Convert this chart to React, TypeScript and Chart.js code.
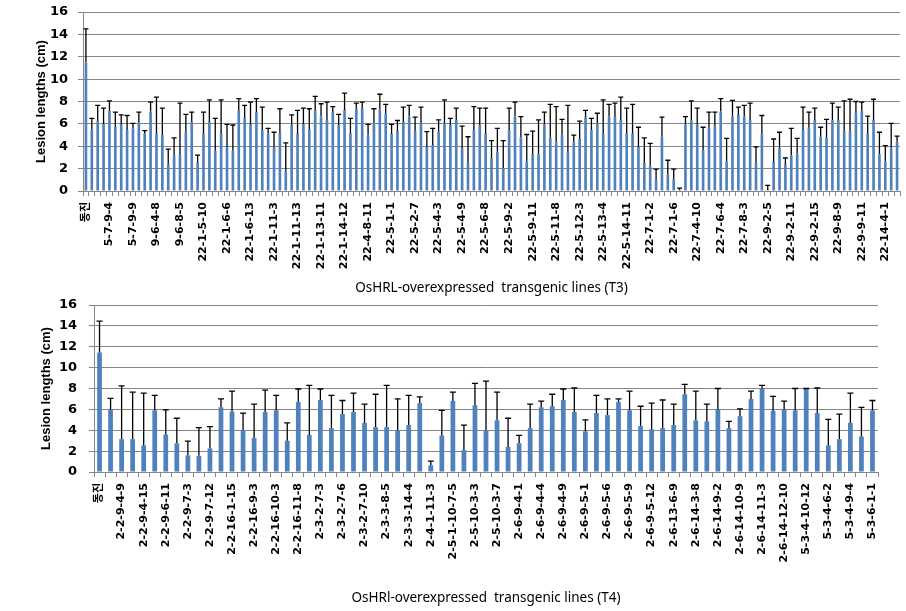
import React, { useEffect, useRef } from 'react';
import { Chart, registerables } from 'chart.js';
Chart.register(...registerables);

// ---------- T3 panel ----------
const t3TickLabels = [
  '동진', '5-7-9-4', '5-7-9-9', '9-6-4-8', '9-6-8-5', '22-1-5-10', '22-1-6-6', '22-1-6-13',
  '22-1-11-3', '22-1-11-13', '22-1-13-11', '22-1-14-12', '22-4-8-11', '22-5-1-1', '22-5-2-7',
  '22-5-4-3', '22-5-4-9', '22-5-6-8', '22-5-9-2', '22-5-9-11', '22-5-11-8', '22-5-12-3',
  '22-5-13-4', '22-5-14-11', '22-7-1-2', '22-7-1-6', '22-7-4-10', '22-7-6-4', '22-7-8-3',
  '22-9-2-5', '22-9-2-11', '22-9-2-15', '22-9-8-9', '22-9-9-11', '22-14-4-1',
];
const t3LabelStep = 4;
const t3Values = [
  11.5, 5.5, 6.25, 6.0, 7.15, 5.75, 6.0, 5.45, 5.6, 6.1,
  5.15, 7.1, 5.15, 5.0, 2.35, 3.2, 3.2, 5.3, 6.2, 2.5,
  5.15, 6.2, 3.6, 5.1, 3.95, 3.6, 7.15, 6.55, 6.0, 7.05,
  5.45, 5.15, 3.95, 5.15, 1.75, 5.9, 5.1, 6.0, 5.5, 7.25,
  6.65, 6.35, 7.05, 5.9, 7.25, 5.15, 7.35, 7.4, 4.95, 6.1,
  7.3, 6.95, 5.1, 5.35, 6.2, 6.65, 5.35, 6.05, 3.95, 4.1,
  5.3, 6.05, 5.9, 6.35, 3.85, 2.5, 5.45, 5.9, 5.15, 2.95,
  3.5, 2.05, 5.45, 6.65, 4.8, 2.65, 3.3, 3.3, 5.95, 4.8,
  4.35, 5.0, 3.45, 4.35, 4.65, 6.6, 5.45, 6.05, 5.15, 6.65,
  6.6, 6.35, 5.15, 5.15, 3.95, 2.5, 2.25, 1.0, 4.85, 1.45,
  1.05, 0.1, 5.95, 6.3, 5.95, 3.65, 5.65, 5.8, 7.1, 2.65,
  6.65, 6.8, 6.65, 6.35, 2.5, 5.05, 0.1, 2.6, 3.85, 2.35,
  3.2, 3.35, 5.45, 5.65, 6.35, 4.85, 4.75, 6.35, 6.35, 5.35,
  5.35, 6.95, 7.15, 5.15, 6.35, 3.3, 2.65, 3.8, 4.4,
];
const t3Errors = [
  3.0, 1.0, 1.4, 1.4, 0.9, 1.3, 0.8, 1.3, 0.45, 0.95,
  0.25, 0.85, 3.25, 2.4, 1.4, 1.55, 4.65, 1.55, 0.85, 0.7,
  1.9, 1.95, 2.9, 3.05, 2.0, 2.3, 1.1, 1.1, 1.95, 1.2,
  2.05, 0.45, 1.3, 2.2, 2.55, 0.9, 2.1, 1.4, 1.85, 1.2,
  1.15, 1.6, 0.5, 0.95, 1.5, 1.35, 0.5, 0.55, 1.0, 1.25,
  1.35, 0.8, 0.85, 0.95, 1.3, 1.0, 1.25, 1.45, 1.35, 1.5,
  1.05, 2.1, 0.6, 1.05, 1.95, 2.35, 2.1, 1.5, 2.25, 1.55,
  2.1, 2.45, 1.95, 1.3, 1.85, 2.4, 2.05, 3.05, 1.1, 2.95,
  3.2, 1.4, 4.2, 0.65, 1.6, 0.6, 1.05, 0.9, 3.0, 1.1,
  1.25, 2.05, 2.25, 2.6, 1.75, 2.25, 2.0, 0.95, 1.75, 1.3,
  0.9, 0.15, 0.7, 1.75, 1.45, 2.05, 1.4, 1.25, 1.15, 2.05,
  1.45, 0.7, 1.0, 1.5, 1.45, 1.7, 0.4, 2.05, 1.4, 0.6,
  2.4, 1.35, 2.05, 1.4, 1.05, 0.85, 1.65, 1.5, 1.15, 2.7,
  2.85, 1.05, 0.8, 1.55, 1.85, 1.95, 1.4, 2.25, 0.5,
];
const t3Title = 'OsHRL-overexpressed  transgenic lines (T3)';

// ---------- T4 panel ----------
const t4TickLabels = [
  '동진', '2-2-9-4-9', '2-2-9-4-15', '2-2-9-6-11', '2-2-9-7-3', '2-2-9-7-12', '2-2-16-1-15',
  '2-2-16-9-3', '2-2-16-10-3', '2-2-16-11-8', '2-3-2-7-3', '2-3-2-7-6', '2-3-2-7-10',
  '2-3-3-8-5', '2-3-3-14-4', '2-4-1-11-3', '2-5-1-10-7-5', '2-5-10-3-3', '2-5-10-3-7',
  '2-6-9-4-1', '2-6-9-4-4', '2-6-9-4-9', '2-6-9-5-1', '2-6-9-5-6', '2-6-9-5-9', '2-6-9-5-12',
  '2-6-13-6-9', '2-6-14-3-8', '2-6-14-9-2', '2-6-14-10-9', '2-6-14-11-3', '2-6-14-12-10',
  '5-3-4-10-12', '5-3-4-6-2', '5-3-4-9-4', '5-3-6-1-1',
];
const t4LabelStep = 2;
const t4Values = [
  11.45, 6.0, 3.15, 3.15, 2.55, 5.9, 3.6, 2.75, 1.6, 1.55,
  2.25, 6.2, 5.8, 4.0, 3.25, 5.75, 5.9, 3.0, 6.7, 3.55,
  6.9, 4.2, 5.55, 5.75, 4.7, 4.3, 4.3, 4.0, 4.5, 6.6,
  0.65, 3.5, 6.8, 2.1, 6.4, 4.0, 4.95, 2.4, 2.75, 4.2,
  6.2, 6.3, 6.9, 5.75, 3.9, 5.65, 5.45, 6.7, 5.9, 4.4,
  4.1, 4.2, 4.5, 7.45, 4.95, 4.85, 6.0, 4.2, 5.35, 7.0,
  8.0, 5.85, 6.0, 5.9, 7.95, 5.65, 2.55, 3.15, 4.7, 3.4,
  5.9,
];
const t4Errors = [
  3.0, 1.05, 5.1, 4.5, 5.0, 1.45, 2.35, 2.4, 1.35, 2.7,
  2.1, 0.8, 1.95, 1.65, 3.25, 2.1, 1.45, 1.7, 1.25, 4.75,
  1.05, 3.15, 1.3, 1.8, 1.8, 3.15, 4.0, 3.0, 2.85, 0.6,
  0.4, 2.4, 0.85, 2.4, 2.1, 4.7, 2.7, 2.75, 0.75, 2.3,
  0.6, 1.15, 1.05, 2.3, 1.1, 1.7, 1.55, 0.3, 1.85, 1.9,
  2.5, 2.7, 2.0, 0.95, 2.8, 1.65, 2.0, 0.65, 0.7, 0.75,
  0.3, 1.4, 0.8, 2.1, 0.05, 2.4, 2.5, 2.4, 2.85, 2.8,
  0.95,
];
const t4Title = 'OsHRl-overexpressed  transgenic lines (T4)';

const yTitle = 'Lesion lengths (cm)';
const yMin = 0;
const yMax = 16;
const yStep = 2;

const BAR_COLOR = '#4F81BD';
const GRID_COLOR = '#868686';

function expandLabels(ticks: string[], step: number, count: number): string[] {
  const out: string[] = [];
  for (let i = 0; i < count; i++) {
    out.push(i % step === 0 ? ticks[i / step] ?? '' : '');
  }
  return out;
}

const errorBarPlugin = {
  id: 'errorBars',
  afterDatasetsDraw(chart: any, _args: any, opts: any) {
    const { ctx } = chart;
    const yScale = chart.scales.y;
    const meta = chart.getDatasetMeta(0);
    const data = chart.data.datasets[0].data as number[];
    const errs: number[] = opts.errors || [];
    ctx.save();
    ctx.strokeStyle = '#000';
    ctx.lineWidth = opts.lineWidth || 1.3;
    meta.data.forEach((el: any, i: number) => {
      const e = errs[i];
      if (e == null) return;
      const px = el.x;
      const y0 = yScale.getPixelForValue(data[i]);
      const y1 = yScale.getPixelForValue(data[i] + e);
      const c = (opts.cap || 5) / 2;
      ctx.beginPath();
      ctx.moveTo(px, y0);
      ctx.lineTo(px, y1);
      ctx.moveTo(px - c, y1);
      ctx.lineTo(px + c, y1);
      ctx.stroke();
    });
    ctx.restore();
  },
};

interface PanelCfg {
  width: number;
  height: number;
  values: number[];
  errors: number[];
  tickLabels: string[];
  step: number;
  title: string;
  padTop: number;
  padRight: number;
  yAxisWidth: number;
  xAxisHeight: number;
  yTickPadding: number;
  yTitlePad: number;
  xTitlePadBottom: number;
  barPct: number;
  cap: number;
}

function BarPanel({ cfg, top }: { cfg: PanelCfg; top: number }) {
  const ref = useRef<HTMLCanvasElement | null>(null);
  useEffect(() => {
    if (!ref.current) return;
    const labels = expandLabels(cfg.tickLabels, cfg.step, cfg.values.length);
    const chart = new Chart(ref.current, {
      type: 'bar',
      data: {
        labels,
        datasets: [
          {
            data: cfg.values,
            backgroundColor: BAR_COLOR,
            borderWidth: 0,
            barPercentage: cfg.barPct,
            categoryPercentage: 1,
          },
        ],
      },
      plugins: [errorBarPlugin as any],
      options: {
        responsive: false,
        animation: false,
        devicePixelRatio: 1,
        layout: { padding: { left: 0, right: cfg.padRight, top: cfg.padTop, bottom: 0 } },
        plugins: {
          legend: { display: false },
          tooltip: { enabled: false },
          errorBars: { errors: cfg.errors, cap: cfg.cap, lineWidth: 1.3 },
        } as any,
        scales: {
          x: {
            type: 'category',
            offset: true,
            grid: {
              display: true,
              drawOnChartArea: false,
              drawTicks: true,
              tickLength: 5,
              color: GRID_COLOR,
              offset: true,
            },
            border: { display: true, color: GRID_COLOR, width: 1 },
            ticks: {
              autoSkip: false,
              maxRotation: 90,
              minRotation: 90,
              padding: 6,
              color: '#000',
              font: { family: "'DejaVu Sans', 'Noto Sans CJK KR', sans-serif", size: 11, weight: 'bold' },
            },
            title: {
              display: true,
              text: cfg.title,
              color: '#000',
              font: { family: "'Noto Sans', sans-serif", size: 13.5, weight: 'normal' },
              padding: { top: 0, bottom: cfg.xTitlePadBottom },
            },
            afterFit: (s: any) => {
              s.height = cfg.xAxisHeight;
              s.paddingLeft = 0;
              s.paddingRight = 0;
            },
          },
          y: {
            min: yMin,
            max: yMax,
            grid: { color: GRID_COLOR, tickLength: 5, drawTicks: true },
            border: { display: true, color: GRID_COLOR, width: 1 },
            ticks: {
              stepSize: yStep,
              padding: cfg.yTickPadding,
              color: '#000',
              font: { family: "'DejaVu Sans', sans-serif", size: 13, weight: 'bold' },
            },
            title: {
              display: true,
              text: yTitle,
              color: '#000',
              font: { family: "'Liberation Sans', Arial, sans-serif", size: 13, weight: 'bold' },
              padding: { top: cfg.yTitlePad, bottom: 0 },
            },
            afterFit: (s: any) => {
              s.width = cfg.yAxisWidth;
              s.paddingTop = 0;
              s.paddingBottom = 0;
            },
          },
        },
      } as any,
    });
    return () => chart.destroy();
  }, [cfg]);
  return (
    <canvas
      ref={ref}
      width={cfg.width}
      height={cfg.height}
      style={{ position: 'absolute', left: 0, top, width: cfg.width, height: cfg.height }}
    />
  );
}

const topCfg: PanelCfg = {
  width: 906,
  height: 300,
  values: t3Values,
  errors: t3Errors,
  tickLabels: t3TickLabels,
  step: t3LabelStep,
  title: t3Title,
  padTop: 12,
  padRight: 6,
  yAxisWidth: 83,
  xAxisHeight: 109,
  yTickPadding: 10,
  yTitlePad: 34,
  xTitlePadBottom: 4,
  barPct: 0.45,
  cap: 5,
};

const bottomCfg: PanelCfg = {
  width: 906,
  height: 321,
  values: t4Values,
  errors: t4Errors,
  tickLabels: t4TickLabels,
  step: t4LabelStep,
  title: t4Title,
  padTop: 15,
  padRight: 28,
  yAxisWidth: 94,
  xAxisHeight: 139,
  yTickPadding: 12,
  yTitlePad: 39,
  xTitlePadBottom: 5,
  barPct: 0.43,
  cap: 6,
};

export default function App() {
  return (
    <div
      style={{
        position: 'fixed',
        left: 0,
        top: 0,
        width: 906,
        height: 611,
        background: '#fff',
        overflow: 'hidden',
      }}
    >
      <BarPanel cfg={topCfg} top={0} />
      <BarPanel cfg={bottomCfg} top={290} />
    </div>
  );
}
